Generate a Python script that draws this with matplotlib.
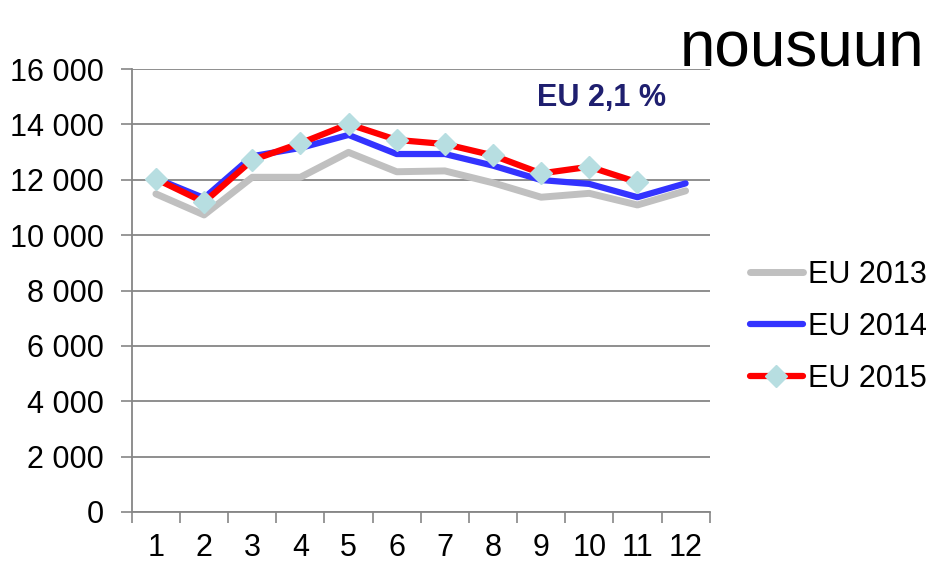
import matplotlib
matplotlib.use("Agg")
import matplotlib.pyplot as plt
from matplotlib.ticker import FixedLocator, FuncFormatter

plt.rcParams["font.family"] = ["Liberation Sans", "DejaVu Sans"]

# Dados
kuukaudet = [1, 2, 3, 4, 5, 6, 7, 8, 9, 10, 11, 12]
eu_2013 = [11490, 10730, 12090, 12090, 12990, 12290, 12320, 11890, 11370, 11510, 11090, 11600]
eu_2014 = [12050, 11340, 12850, 13150, 13620, 12930, 12930, 12510, 11990, 11850, 11370, 11870]
eu_2015 = [12030, 11190, 12710, 13320, 14010, 13440, 13290, 12880, 12230, 12470, 11910]
y_ticks = [0, 2000, 4000, 6000, 8000, 10000, 12000, 14000, 16000]

fig = plt.figure(figsize=(9.35, 5.63), dpi=100)
ax = fig.add_axes([0.141, 0.0906, 0.618, 0.7868])

ax.plot(kuukaudet, eu_2013, color="#C0C0C0", lw=5, solid_capstyle="round", label="EU 2013", zorder=3)
ax.plot(kuukaudet, eu_2014, color="#3333FF", lw=4.5, solid_capstyle="round", label="EU 2014", zorder=4)
ax.plot(kuukaudet[:len(eu_2015)], eu_2015, color="#FF0000", lw=4.5, solid_capstyle="round",
        marker="D", markersize=11, markerfacecolor="#B7DEE1", markeredgecolor="#B7DEE1",
        label="EU 2015", zorder=5)

# Akselit
ax.set_xlim(0.5, 12.5)
ax.set_ylim(0, 16000)
ax.yaxis.set_major_locator(FixedLocator(y_ticks))
ax.yaxis.set_major_formatter(FuncFormatter(lambda v, p: f"{int(v):,}".replace(",", " ")))
ax.set_xticks(kuukaudet)
ax.set_xticklabels([str(k) for k in kuukaudet])
ax.set_xticks([k + 0.5 for k in [0] + kuukaudet], minor=True)
ax.tick_params(axis="x", which="major", length=0, pad=15, labelsize=22)
ax.tick_params(axis="x", which="minor", length=8, width=1.2, color="#868686", direction="out")
ax.tick_params(axis="y", length=8, width=1.2, color="#868686", direction="out", pad=12, labelsize=22)

ax.grid(axis="y", color="#868686", lw=1.3, zorder=1)
for s in ["top", "right"]:
    ax.spines[s].set_visible(False)
for s in ["left", "bottom"]:
    ax.spines[s].set_color("#868686")
    ax.spines[s].set_linewidth(1.3)

ax.text(0.813, 0.935, "EU 2,1 %", transform=ax.transAxes, fontsize=22, fontweight="bold",
        color="#1F1F6F", ha="center", va="center")
fig.text(0.727, 0.882, "nousuun", fontsize=46, color="black", ha="left", va="baseline")

leg = ax.legend(loc="center left", bbox_to_anchor=(1.069, 0.418), frameon=False, fontsize=22,
                handlelength=1.75, handletextpad=0.15, labelspacing=0.72, borderpad=0,
                borderaxespad=0)

fig.savefig("out.png", dpi=100)
